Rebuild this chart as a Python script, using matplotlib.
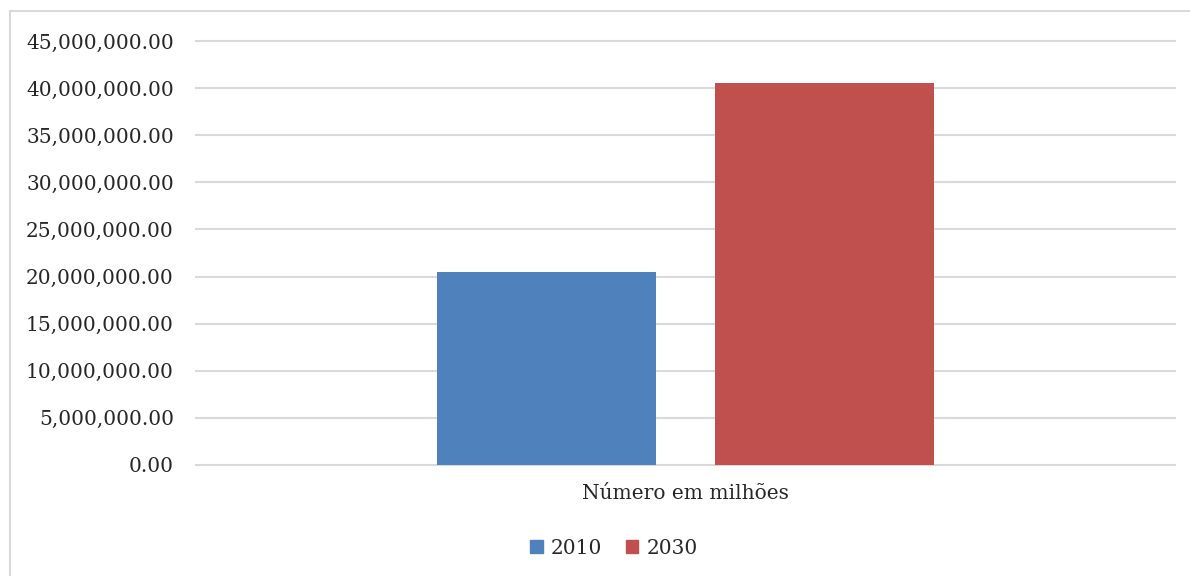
import matplotlib
matplotlib.use("Agg")
import matplotlib.pyplot as plt
from matplotlib.patches import Patch
from matplotlib.lines import Line2D
from matplotlib.ticker import FuncFormatter

categories = ["Número em milhões"]
series_names = ["2010", "2030"]
values_2010 = [20500000]
values_2030 = [40500000]
colors = ["#4F81BD", "#C0504D"]

plt.rcParams['font.family'] = ['DejaVu Serif']
fig = plt.figure(figsize=(11.9, 5.76), dpi=100)
fx, fy = 9.5/1190, 1 - 11/576
fig.add_artist(Line2D([fx, fx], [0, fy], transform=fig.transFigure, color="#d9d9d9", linewidth=1.5))
fig.add_artist(Line2D([fx, 1], [fy, fy], transform=fig.transFigure, color="#d9d9d9", linewidth=1.5))
ax = fig.add_axes([196/1190, 1 - 465/576, (1175-196)/1190, (465-41)/576])

w = 0.2237
off = 0.142
x = list(range(len(categories)))
ax.bar([i - off for i in x], values_2010, width=w, color=colors[0], zorder=3)
ax.bar([i + off for i in x], values_2030, width=w, color=colors[1], zorder=3)

ax.set_xlim(-0.5, 0.5)
ax.set_ylim(0, 45000000)
ax.set_yticks(range(0, 45000001, 5000000))
ax.yaxis.set_major_formatter(FuncFormatter(lambda v, p: f"{v:,.2f}"))
ax.grid(axis='y', color="#d9d9d9", linewidth=1.5, zorder=0)
for gl in ax.get_ygridlines():
    gl.set_clip_on(False)
for s in ax.spines.values():
    s.set_visible(False)
ax.tick_params(axis='both', length=0, labelsize=14.5, colors="#262626")
ax.tick_params(axis='y', pad=16)
ax.tick_params(axis='x', pad=14)
ax.set_xticks(x)
ax.set_xticklabels(categories)

handles = [Patch(color=colors[0], label=series_names[0]), Patch(color=colors[1], label=series_names[1])]
fig.legend(handles=handles, loc='center', bbox_to_anchor=(614/1190, 1 - 548/576), ncol=2,
           frameon=False, fontsize=14.5, handlelength=0.6, handleheight=0.6,
           handletextpad=0.4, columnspacing=1.2, labelcolor="#262626")

fig.savefig("out.png", dpi=100)
